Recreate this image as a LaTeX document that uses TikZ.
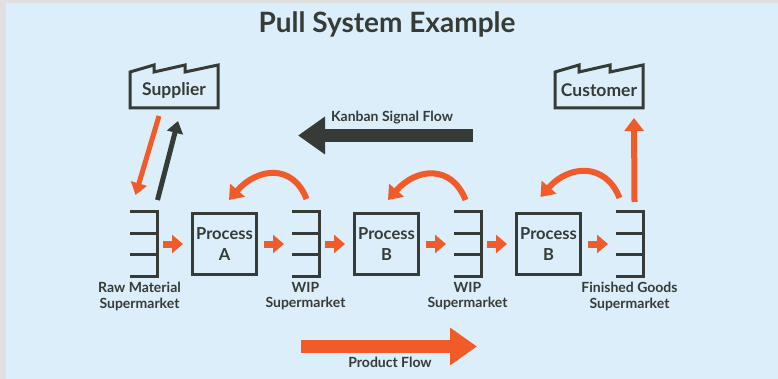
\documentclass[tikz,border=0pt]{standalone}
\usepackage{fontspec}
\setmainfont{Lato}
\usepackage{tikz}
\usetikzlibrary{arrows.meta}
\usetikzlibrary{positioning}
\usetikzlibrary{calc}
\definecolor{myorange}{RGB}{241,90,41}
\definecolor{mydark}{RGB}{54,59,55}
\definecolor{myblue}{RGB}{220,238,249}
\definecolor{mygray}{RGB}{224,224,224}
\newcommand\mymarket[2][]{%
  \node[mymarket,#1] (#2) {};
  \draw[marketline] (#2.north west) -| (#2.south east) -- (#2.south west);
  \draw[marketline] ($(#2.north west)!1/3!(#2.south west)$) -- ($(#2.north east)!1/3!(#2.south east)$);
  \draw[marketline] ($(#2.north west)!2/3!(#2.south west)$) -- ($(#2.north east)!2/3!(#2.south east)$);
}
\newcommand\myfactory[3]{%
  \node[factory] (#1) at (#2) {#3};
  \draw[marketline] (#1.south west) -- (#1.north west) -- ++(24,-7) -- ++(0,7)
    -- ++(31,-7) -- ++(0,7) -- ([yshift=7pt]#1.north east) -- (#1.south east) -- cycle;
}

\begin{document}
\begin{tikzpicture}[
x=1pt, y=-1pt,
node distance=34pt,
mybox/.style={
  draw=mydark,
  line width=3pt,
  minimum width=64pt,
  minimum height=61pt,
  inner sep=0pt,
  align=center,
  text=mydark,
  font=\bfseries\fontsize{16.5}{20.5}\selectfont},
mymarket/.style={
  minimum width=24pt,
  minimum height=61pt,
  inner sep=0pt,
  outer sep=1.5pt},
marketline/.style={
  draw=mydark,
  line width=3pt,
  line join=miter},
factory/.style={
  minimum width=85pt,
  minimum height=33pt,
  inner sep=0pt,
  outer sep=1.5pt,
  text=mydark,
  font=\bfseries\fontsize{17.5}{20}\selectfont},
marketlabel/.style={
  align=center,
  inner sep=0pt,
  text=mydark,
  font=\bfseries\fontsize{14}{15.5}\selectfont},
flowlabel/.style={
  inner sep=0pt,
  text=mydark,
  font=\bfseries\fontsize{14}{16}\selectfont},
smallarrow/.style={
  myorange,
  line width=7pt,
  -{Triangle[length=11pt,width=18pt]},
  shorten <=6pt,
  shorten >=8pt},
pullarc/.style={
  myorange,
  line width=6pt,
  -{Triangle[length=13pt,width=19pt]}},
supplyarrow/.style={
  line width=5pt,
  -{Triangle[length=12pt,width=16pt]}},
bigarrow/.style={
  line width=13pt,
  -{Triangle[length=27pt,width=36pt]}}
]
% background
\fill[mygray] (0,0) rectangle (778,379);
\fill[myblue] (6,3) rectangle (778,379);
\useasboundingbox (0,0) rectangle (778,379);

\node[anchor=base, text=mydark, font=\bfseries\fontsize{28}{32}\selectfont] (title) at (387,33) {Pull System Example};

% line of processes
\node[mybox] (procA) at (224.5,244) {Process\\A};
\mymarket[left=of procA]{raw}
\mymarket[right=of procA]{wip1}
\node[mybox, right=of wip1] (procB) {Process\\B};
\mymarket[right=of procB]{wip2}
\node[mybox, right=of wip2] (procC) {Process\\B};
\mymarket[right=of procC]{finished}

\node[marketlabel, below=6pt of raw, xshift=-4pt] (rawtxt) {Raw Material\\Supermarket};
\node[marketlabel, below=6pt of wip1] (wip1txt) {WIP\\Supermarket};
\node[marketlabel, below=6pt of wip2] (wip2txt) {WIP\\Supermarket};
\node[marketlabel, below=6pt of finished] (finishedtxt) {Finished Goods\\Supermarket};

\draw[smallarrow] (raw) -- (procA);
\draw[smallarrow] (procA) -- (wip1);
\draw[smallarrow] (wip1) -- (procB);
\draw[smallarrow] (procB) -- (wip2);
\draw[smallarrow] (wip2) -- (procC);
\draw[smallarrow] (procC) -- (finished);

% pull signals
\draw[pullarc] ([xshift=1pt,yshift=13pt]wip1.north) .. controls +(-14,-36) and +(28,-32) .. ([xshift=4.5pt,yshift=12pt]procA.north);
\draw[pullarc] ([xshift=-2pt,yshift=12pt]wip2.north) .. controls +(-14,-36) and +(28,-32) .. ([xshift=1.5pt,yshift=12pt]procB.north);
\draw[pullarc] ([xshift=-10pt,yshift=14pt]finished.north) .. controls +(-14,-36) and +(28,-32) .. ([xshift=-8pt,yshift=15pt]procC.north);

% supplier and customer
\myfactory{supplier}{174,90}{Supplier}
\myfactory{customer}{599,90}{Customer}
\draw[supplyarrow, myorange] ([xshift=-15pt,yshift=-8pt]supplier.south) -- ([xshift=-8pt,yshift=17pt]raw.north);
\draw[supplyarrow, mydark] ([xshift=14pt,yshift=12pt]raw.north) -- ([xshift=4pt,yshift=-13pt]supplier.south);
\draw[pullarc] ([xshift=5pt,yshift=10pt]finished.north) -- ([xshift=35pt,yshift=-10pt]customer.south);

% flows
\coordinate (kanbanS) at (473,135.5);
\coordinate (kanbanE) at (298,135.5);
\draw[bigarrow, mydark] (kanbanS) -- (kanbanE);
\node[flowlabel, anchor=base] (kanbantxt) at (392,122) {Kanban Signal Flow};
\coordinate (productS) at (301,346.5);
\coordinate (productE) at (477,346.5);
\draw[bigarrow, myorange] (productS) -- (productE);
\node[flowlabel, anchor=base] (producttxt) at (390,367.5) {Product Flow};
\end{tikzpicture}
\end{document}
